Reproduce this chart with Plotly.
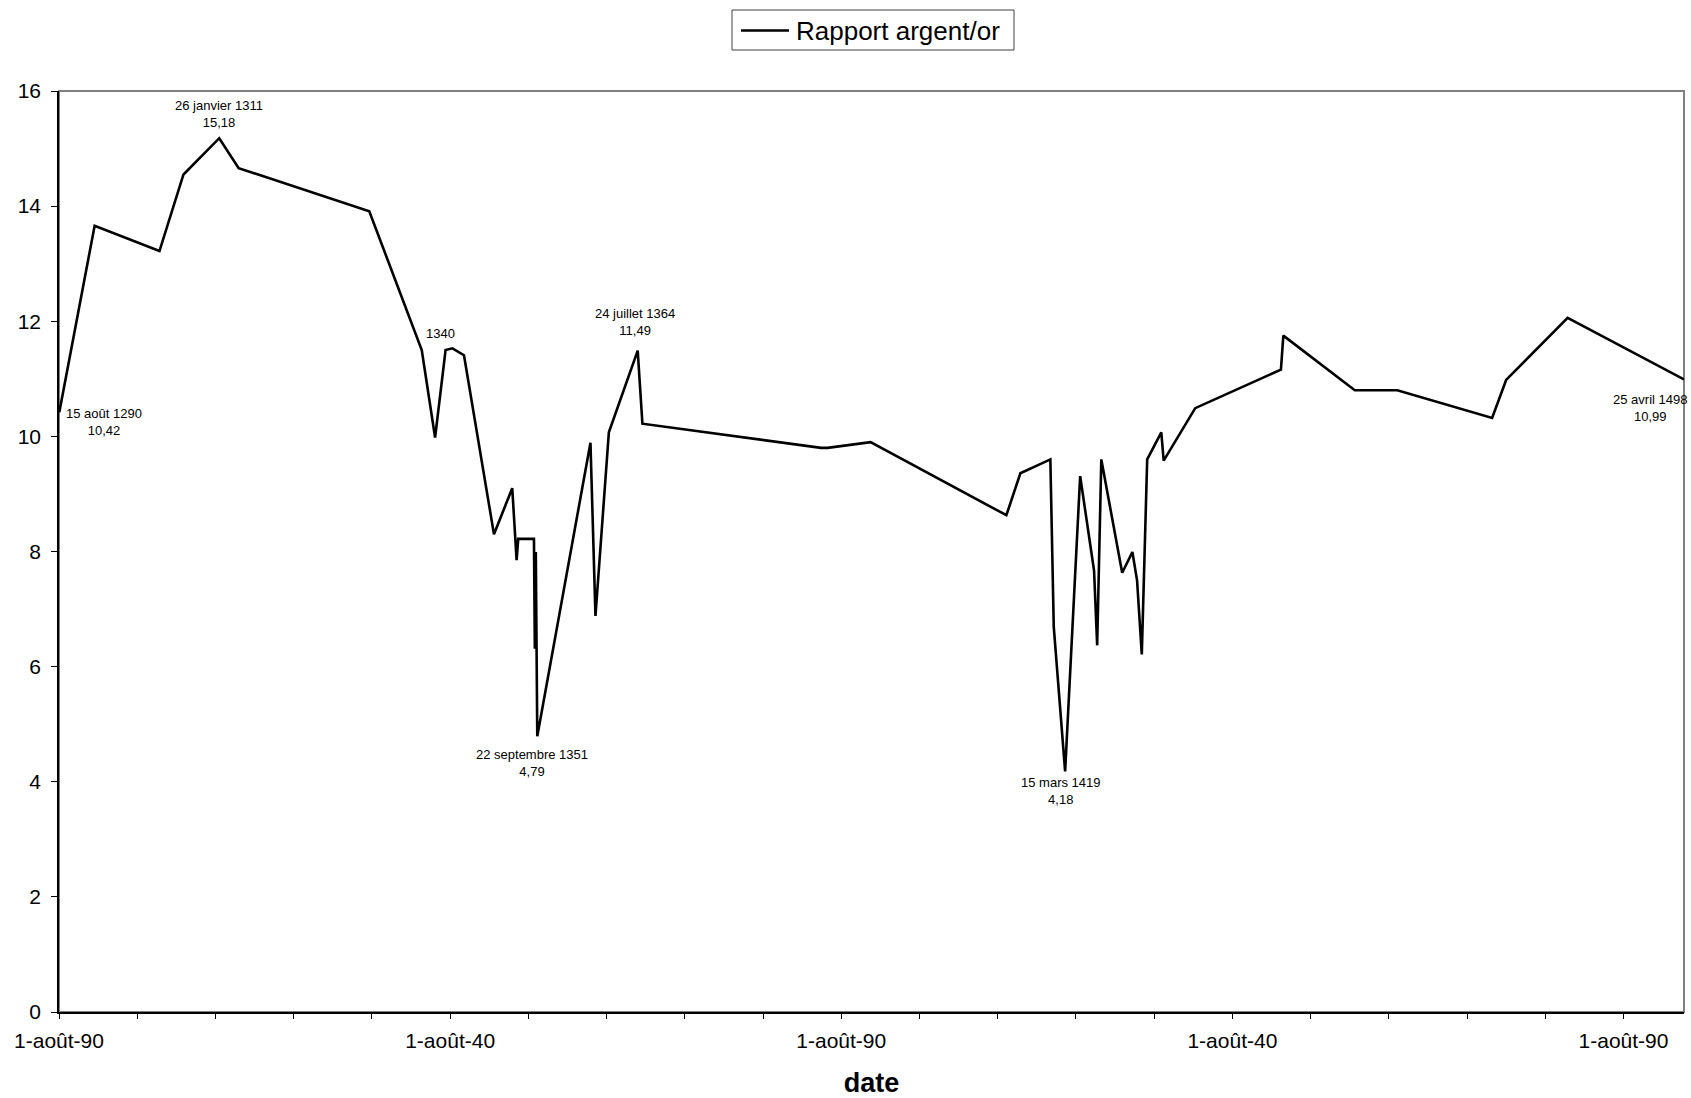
import plotly.graph_objects as go

# ---- data ----
dates = [
    "1290-08-15", "1295-02-20", "1303-06-05", "1306-07-01", "1311-01-26",
    "1313-07-20", "1330-04-01", "1336-12-15", "1338-08-30", "1340-01-01",
    "1340-11-15", "1342-05-10", "1346-03-10", "1348-07-10", "1349-01-30",
    "1349-04-15", "1351-04-20", "1351-06-01", "1351-07-15", "1351-09-22",
    "1358-07-10", "1359-03-01", "1360-11-15", "1364-07-24", "1365-03-01",
    "1388-01-01", "1388-11-01", "1394-05-01", "1411-09-10", "1413-06-25",
    "1417-04-25", "1417-10-01", "1419-03-15", "1421-02-15", "1422-11-25",
    "1423-04-20", "1423-10-30", "1426-07-01", "1427-10-20", "1428-05-25",
    "1429-01-01", "1429-09-10", "1431-07-01", "1431-10-20", "1435-11-01",
    "1446-10-15", "1447-02-05", "1456-03-25", "1461-09-01", "1473-10-15",
    "1475-07-30", "1483-06-10", "1498-04-25",
]
ratio = [
    10.42, 13.66, 13.22, 14.55, 15.18,
    14.66, 13.91, 11.50, 9.98, 11.50,
    11.53, 11.41, 8.30, 9.10, 7.85,
    8.22, 8.22, 6.31, 7.99, 4.79,
    9.89, 6.88, 10.07, 11.49, 10.22,
    9.80, 9.80, 9.90, 8.63, 9.36,
    9.60, 6.69, 4.18, 9.31, 7.67,
    6.37, 9.60, 7.63, 7.99, 7.50,
    6.21, 9.60, 10.07, 9.58, 10.49,
    11.16, 11.75, 10.80, 10.80, 10.32,
    10.98, 12.06, 10.99,
]
series_name = "Rapport argent/or"

label_dates = ["1290-08-15", "1311-01-26", "1340-01-01", "1351-09-22",
               "1364-07-24", "1419-03-15", "1498-04-25"]
label_values = [10.42, 15.18, 11.50, 4.79, 11.49, 4.18, 10.99]
label_texts = ["15 août 1290<br>10,42", "26 janvier 1311<br>15,18", "1340",
               "22 septembre 1351<br>4,79", "24 juillet 1364<br>11,49",
               "15 mars 1419<br>4,18", "25 avril 1498<br>10,99"]

tick_dates = ["%d-08-01" % y for y in range(1290, 1491, 10)]
major_labels = {1290: "1-août-90", 1340: "1-août-40", 1390: "1-août-90",
                1440: "1-août-40", 1490: "1-août-90"}
tick_texts = [major_labels.get(int(d[:4]), "") for d in tick_dates]

# ---- figure ----
FONT = "Liberation Sans, Arial, sans-serif"
W, H = 1691, 1098
ML, MR, MT, MB = 59, 7, 91, 86
PW, PH = W - ML - MR, H - MT - MB


def px_x(x):
    return (x - ML) / PW


def px_y(y):
    return (H - MB - y) / PH


fig = go.Figure()
fig.add_trace(go.Scatter(
    x=dates, y=ratio, mode="lines", name=series_name, showlegend=False,
    line=dict(color="black", width=2.6),
))

# label placement (style): (xanchor, yanchor, xshift, yshift)
placements = [
    ("center", "middle", 45, -10),
    ("center", "bottom", 0, 6),
    ("center", "bottom", -5, 7),
    ("center", "top", -5, -9),
    ("center", "bottom", -3, 11),
    ("center", "top", -4, -2),
    ("center", "middle", -34, -29),
]
for d, v, t, (xa, ya, xs, ys) in zip(label_dates, label_values, label_texts, placements):
    fig.add_annotation(x=d, y=v, text=t, showarrow=False,
                       xanchor=xa, yanchor=ya, xshift=xs, yshift=ys,
                       font=dict(family=FONT, size=13, color="black"))

# gray frame (top/right)
fig.add_shape(type="rect", xref="paper", yref="paper", x0=0, y0=0, x1=1, y1=1,
              line=dict(color="#808080", width=2), layer="below")

# legend box drawn in paper coordinates
fig.add_shape(type="rect", xref="paper", yref="paper",
              x0=px_x(732), x1=px_x(1014), y0=px_y(50), y1=px_y(10),
              line=dict(color="#404040", width=1), fillcolor="white")
fig.add_shape(type="line", xref="paper", yref="paper",
              x0=px_x(741), x1=px_x(789), y0=px_y(30.5), y1=px_y(30.5),
              line=dict(color="black", width=2.6))
fig.add_annotation(xref="paper", yref="paper", x=px_x(794), y=px_y(31),
                   xanchor="left", yanchor="middle", showarrow=False,
                   text=series_name,
                   font=dict(family=FONT, size=26, color="black"))

fig.update_layout(
    width=W, height=H,
    margin=dict(l=ML, r=MR, t=MT, b=MB, autoexpand=False),
    paper_bgcolor="white", plot_bgcolor="white",
    font=dict(family=FONT, color="black"),
    showlegend=False,
    xaxis=dict(
        type="date", range=["1290-08-01", "1498-04-25"],
        tickmode="array", tickvals=tick_dates, ticktext=tick_texts,
        ticks="outside", ticklen=5, tickwidth=1, tickcolor="black",
        showline=True, linecolor="black", linewidth=2,
        showgrid=False, zeroline=False, automargin=False,
        tickfont=dict(family=FONT, size=21, color="black"),
        ticklabelstandoff=4,
        title=dict(text="<b>date</b>", standoff=24,
                   font=dict(family=FONT, size=27, color="black")),
    ),
    yaxis=dict(
        range=[0, 16], dtick=2, tick0=0,
        ticks="outside", ticklen=6, tickwidth=1, tickcolor="black",
        showline=True, linecolor="black", linewidth=1.5,
        showgrid=False, zeroline=False, automargin=False,
        tickfont=dict(family=FONT, size=21, color="black"),
        ticklabelstandoff=6,
    ),
)

fig.write_html("out.html")
